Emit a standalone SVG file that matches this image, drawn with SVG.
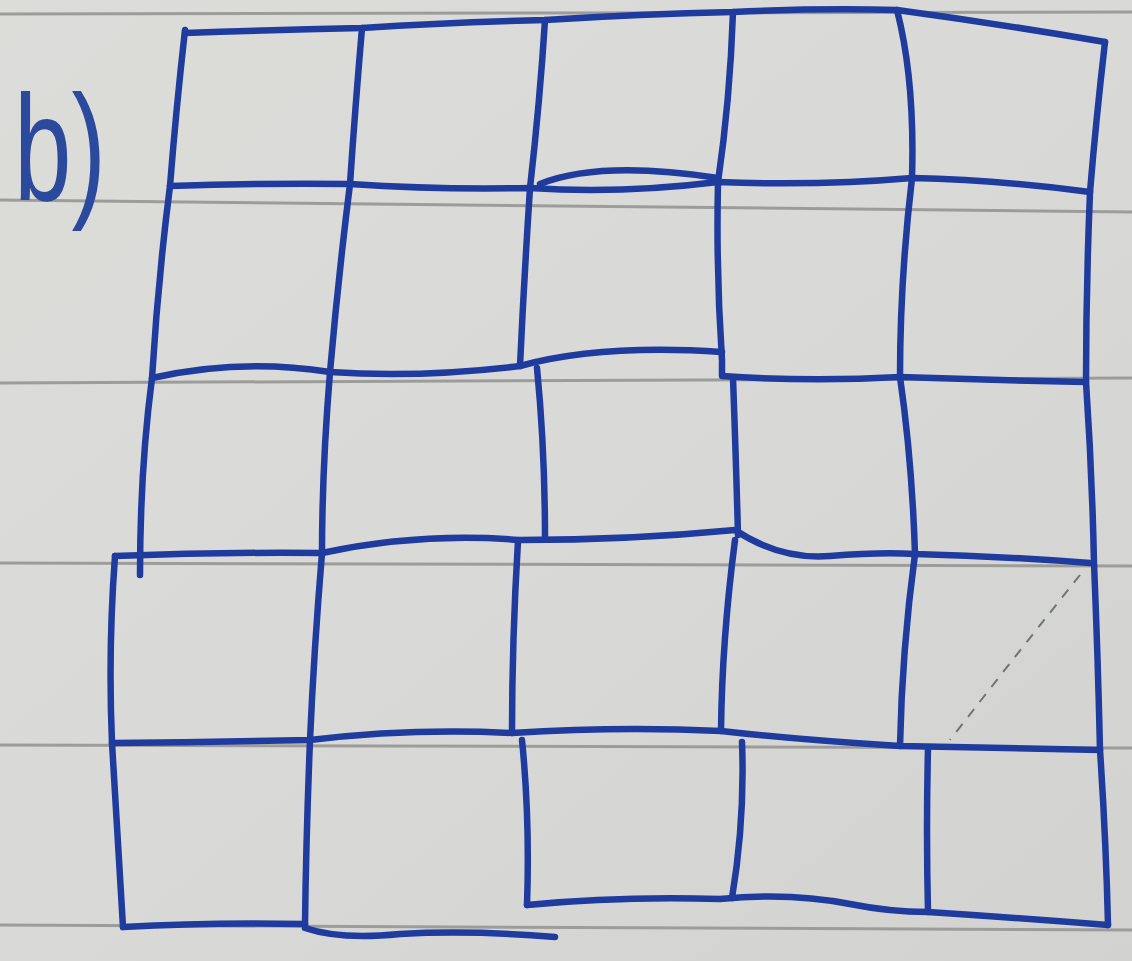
<svg xmlns="http://www.w3.org/2000/svg" width="1132" height="961" viewBox="0 0 1132 961">
<defs>
<linearGradient id="paper" x1="0" y1="0" x2="1" y2="1">
<stop offset="0" stop-color="#dcdcd9"/>
<stop offset="0.5" stop-color="#d9dad8"/>
<stop offset="1" stop-color="#d2d3d1"/>
</linearGradient>
<style>
.rule{fill:none;stroke:#9c9d9b;stroke-width:3}
.ink{fill:none;stroke:#1f3b9e;stroke-width:6.5;stroke-linecap:round;stroke-linejoin:round}
.pencil{fill:none;stroke:#6f7570;stroke-width:2;stroke-dasharray:10 9}
.label{font-family:"Liberation Sans",Arial,sans-serif;font-size:150px;fill:#2b4a9e}
</style>
</defs>
<rect width="1132" height="961" fill="url(#paper)"/>
<g id="ruling">
<path class="rule" d="M0 14 L1132 12"/>
<path class="rule" d="M0 200 L1132 212"/>
<path class="rule" d="M0 383 L1132 378"/>
<path class="rule" d="M0 563 L1132 566"/>
<path class="rule" d="M0 745 L1132 748"/>
<path class="rule" d="M0 925 L1132 930"/>
</g>
<text id="label" class="label" x="14" y="200" textLength="92" lengthAdjust="spacingAndGlyphs">b)</text>
<g id="grid">
<!-- horizontal lines -->
<path class="ink" d="M185 33 Q270 30 362 28 Q450 22 545 20 Q640 14 733 12 Q820 8 897 10 Q1000 24 1105 42"/>
<path class="ink" d="M170 186 Q260 183 350 184 Q440 190 530 188 Q620 194 718 182 Q820 186 912 178 Q1000 180 1090 192"/>
<path class="ink" d="M540 184 Q600 160 718 178"/>
<path class="ink" d="M152 378 Q240 358 330 372 Q420 378 520 366 Q600 344 722 352"/>
<path class="ink" d="M722 362 L722 376 Q810 382 900 377 Q990 380 1086 382"/>
<path class="ink" d="M115 556 Q220 552 322 553 Q420 532 520 540 Q630 540 735 530 Q780 560 830 556 Q880 552 915 554 Q1000 556 1090 563"/>
<path class="ink" d="M112 743 Q210 742 310 740 Q410 728 512 733 Q620 726 721 731 Q800 740 900 746 Q1000 748 1100 750"/>
<path class="ink" d="M123 927 Q210 922 305 924"/>
<path class="ink" d="M305 928 Q340 940 400 934 Q470 930 555 937"/>
<path class="ink" d="M527 905 Q620 896 720 899 Q790 892 850 904 Q890 912 928 912 Q1020 918 1108 925"/>
<!-- vertical lines -->
<path class="ink" d="M185 30 Q176 110 170 186 Q158 280 152 378 Q140 470 140 575"/>
<path class="ink" d="M115 556 Q108 650 112 743 Q118 840 123 927"/>
<path class="ink" d="M362 28 Q355 110 350 184 Q338 280 330 372 Q322 470 322 553 Q314 650 310 740 Q306 840 305 925"/>
<path class="ink" d="M545 20 Q540 100 530 188 Q524 280 520 366"/>
<path class="ink" d="M537 368 Q545 450 545 538"/>
<path class="ink" d="M518 541 Q512 640 512 733"/>
<path class="ink" d="M522 740 Q530 820 527 905"/>
<path class="ink" d="M733 12 Q730 100 718 182 Q716 270 722 360"/>
<path class="ink" d="M733 378 Q736 460 738 535"/>
<path class="ink" d="M735 540 Q722 640 721 731"/>
<path class="ink" d="M742 742 Q745 820 732 898"/>
<path class="ink" d="M897 10 Q915 80 912 178 Q900 280 900 377 Q912 460 915 554 Q902 650 900 746"/>
<path class="ink" d="M928 748 Q926 830 928 912"/>
<path class="ink" d="M1105 42 Q1096 120 1090 192 Q1086 290 1086 382 Q1092 470 1094 563 Q1098 660 1100 750 Q1106 840 1108 925"/>
<path class="pencil" d="M1080 575 Q1020 650 950 740"/>
</g>
</svg>
